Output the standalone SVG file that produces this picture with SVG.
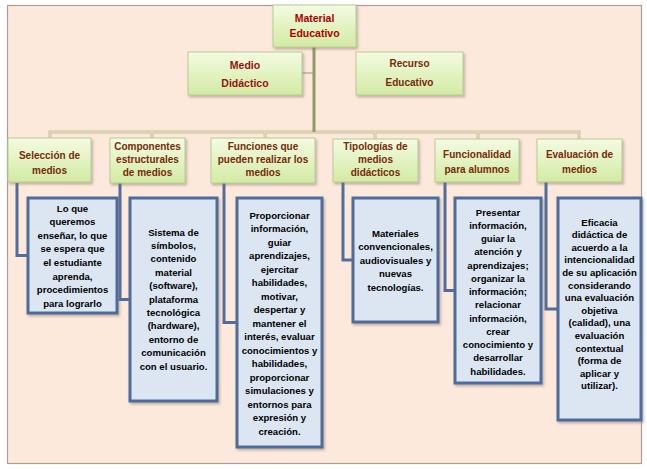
<svg xmlns="http://www.w3.org/2000/svg" width="647" height="469" viewBox="0 0 647 469">
<defs>
<linearGradient id="gg" x1="0" y1="0" x2="0" y2="1">
<stop offset="0" stop-color="#F4FBE2"/>
<stop offset="1" stop-color="#D2EBA3"/>
</linearGradient>
<filter id="sh" x="-10%" y="-10%" width="130%" height="130%">
<feDropShadow dx="1.5" dy="2" stdDeviation="1" flood-color="#7a6f60" flood-opacity="0.45"/>
</filter>
</defs>
<style>
.g{fill:url(#gg);stroke:#B9CC93;stroke-width:1;filter:url(#sh)}
.b{fill:#DCE6F2;stroke:#4D6C9B;stroke-width:3;filter:url(#sh)}
.t{font-family:"Liberation Sans",Arial,sans-serif;font-weight:bold;text-anchor:middle}
.tr{fill:#B00000;font-size:10.5px}
.tl{fill:#7A2A08;font-size:10px}
.tb{fill:#000;font-size:9.6px}
.bc{fill:none;stroke:#4F6E9E;stroke-width:3}
.bus{fill:none;stroke:#C7BE98;stroke-width:3}
.busi{fill:none;stroke:#EEE7CF;stroke-width:1}
</style>
<rect x="0" y="0" width="647" height="469" fill="#fff"/>
<rect x="7.5" y="5.5" width="634" height="458" fill="#FDE9DB" stroke="#A89E96" stroke-width="1.2"/>
<g id="connectors">
<line x1="302" y1="73" x2="314" y2="73" stroke="#C8C0A8" stroke-width="2"/>
<path class="bus" d="M50 140 V132 H579 V140 M152 132 V140 M265 132 V140 M375 132 V140 M478 132 V140"/>
<path class="busi" d="M50 140 V132 H579 V140 M152 132 V140 M265 132 V140 M375 132 V140 M478 132 V140"/>
<line x1="314" y1="46" x2="314" y2="132" stroke="#8E9B68" stroke-width="3"/>
<path class="bc" d="M17 183 V255.5 H28"/>
<path class="bc" d="M120 183 V299.5 H130"/>
<path class="bc" d="M224 183 V322.5 H237"/>
<path class="bc" d="M343 182 V260 H353"/>
<path class="bc" d="M445 182 V290.5 H455"/>
<path class="bc" d="M546 182 V309 H558"/>
</g>
<g id="n-material">
<rect class="g" x="273" y="5" width="83" height="42"/>
<text class="t tr" x="314.5" y="22">Material</text>
<text class="t tr" x="314.5" y="37">Educativo</text>
</g>
<g id="n-medio">
<rect class="g" x="188" y="52" width="114" height="43"/>
<text class="t tr" x="245" y="69" style="fill:#9A1010">Medio</text>
<text class="t tr" x="245" y="87" style="fill:#9A1010">Didáctico</text>
</g>
<g id="n-recurso">
<rect class="g" x="356" y="52" width="107" height="43"/>
<text class="t tl" x="409.5" y="67">Recurso</text>
<text class="t tl" x="409.5" y="86">Educativo</text>
</g>
<g id="n-seleccion">
<rect class="g" x="8" y="138" width="83" height="44"/>
<text class="t tl" x="49.5" y="158.5">Selección de</text>
<text class="t tl" x="49.5" y="173.5">medios</text>
</g>
<g id="n-componentes">
<rect class="g" x="110" y="138" width="75" height="45"/>
<text class="t tl" x="147.5" y="149.5">Componentes</text>
<text class="t tl" x="147.5" y="162.5">estructurales</text>
<text class="t tl" x="147.5" y="175.5">de medios</text>
</g>
<g id="n-funciones">
<rect class="g" x="211" y="138" width="104" height="45"/>
<text class="t tl" x="263" y="149.5">Funciones que</text>
<text class="t tl" x="263" y="162.5">pueden realizar los</text>
<text class="t tl" x="263" y="175.5">medios</text>
</g>
<g id="n-tipologias">
<rect class="g" x="333" y="139" width="85" height="43"/>
<text class="t tl" x="375.5" y="149.5">Tipologías de</text>
<text class="t tl" x="375.5" y="162.5">medios</text>
<text class="t tl" x="375.5" y="175.5">didácticos</text>
</g>
<g id="n-funcionalidad">
<rect class="g" x="435" y="139" width="84" height="43"/>
<text class="t tl" x="477" y="157.5">Funcionalidad</text>
<text class="t tl" x="477" y="172.5">para alumnos</text>
</g>
<g id="n-evaluacion">
<rect class="g" x="537" y="139" width="85" height="43"/>
<text class="t tl" x="579.5" y="157.5">Evaluación de</text>
<text class="t tl" x="579.5" y="172.5">medios</text>
</g>
<g id="d-seleccion">
<rect class="b" x="28" y="198" width="89" height="115"/>
<text class="t tb" x="72.5" y="211.5">Lo que</text>
<text class="t tb" x="72.5" y="225.1">queremos</text>
<text class="t tb" x="72.5" y="238.7">enseñar, lo que</text>
<text class="t tb" x="72.5" y="252.3">se espera que</text>
<text class="t tb" x="72.5" y="265.9">el estudiante</text>
<text class="t tb" x="72.5" y="279.5">aprenda,</text>
<text class="t tb" x="72.5" y="293.1">procedimientos</text>
<text class="t tb" x="72.5" y="306.7">para lograrlo</text>
</g>
<g id="d-componentes">
<rect class="b" x="130" y="198" width="87" height="203"/>
<text class="t tb" x="173.5" y="235.5">Sistema de</text>
<text class="t tb" x="173.5" y="248.9">símbolos,</text>
<text class="t tb" x="173.5" y="262.3">contenido</text>
<text class="t tb" x="173.5" y="275.7">material</text>
<text class="t tb" x="173.5" y="289.1">(software),</text>
<text class="t tb" x="173.5" y="302.5">plataforma</text>
<text class="t tb" x="173.5" y="315.9">tecnológica</text>
<text class="t tb" x="173.5" y="329.3">(hardware),</text>
<text class="t tb" x="173.5" y="342.7">entorno de</text>
<text class="t tb" x="173.5" y="356.1">comunicación</text>
<text class="t tb" x="173.5" y="369.5">con el usuario.</text>
</g>
<g id="d-funciones">
<rect class="b" x="237" y="198" width="85" height="249"/>
<text class="t tb" x="279.5" y="218.5">Proporcionar</text>
<text class="t tb" x="279.5" y="232">información,</text>
<text class="t tb" x="279.5" y="245.5">guiar</text>
<text class="t tb" x="279.5" y="259">aprendizajes,</text>
<text class="t tb" x="279.5" y="272.5">ejercitar</text>
<text class="t tb" x="279.5" y="286">habilidades,</text>
<text class="t tb" x="279.5" y="299.5">motivar,</text>
<text class="t tb" x="279.5" y="313">despertar y</text>
<text class="t tb" x="279.5" y="326.5">mantener el</text>
<text class="t tb" x="279.5" y="340">interés, evaluar</text>
<text class="t tb" x="279.5" y="353.5">conocimientos y</text>
<text class="t tb" x="279.5" y="367">habilidades,</text>
<text class="t tb" x="279.5" y="380.5">proporcionar</text>
<text class="t tb" x="279.5" y="394">simulaciones y</text>
<text class="t tb" x="279.5" y="407.5">entornos para</text>
<text class="t tb" x="279.5" y="421">expresión y</text>
<text class="t tb" x="279.5" y="434.5">creación.</text>
</g>
<g id="d-tipologias">
<rect class="b" x="353" y="198" width="85" height="124"/>
<text class="t tb" x="395.5" y="236.5">Materiales</text>
<text class="t tb" x="395.5" y="250">convencionales,</text>
<text class="t tb" x="395.5" y="263.5">audiovisuales y</text>
<text class="t tb" x="395.5" y="277">nuevas</text>
<text class="t tb" x="395.5" y="290.5">tecnologías.</text>
</g>
<g id="d-funcionalidad">
<rect class="b" x="455" y="198" width="86" height="185"/>
<text class="t tb" x="498" y="215.5">Presentar</text>
<text class="t tb" x="498" y="228.75">información,</text>
<text class="t tb" x="498" y="242">guiar la</text>
<text class="t tb" x="498" y="255.25">atención y</text>
<text class="t tb" x="498" y="268.5">aprendizajes;</text>
<text class="t tb" x="498" y="281.75">organizar la</text>
<text class="t tb" x="498" y="295">información;</text>
<text class="t tb" x="498" y="308.25">relacionar</text>
<text class="t tb" x="498" y="321.5">información,</text>
<text class="t tb" x="498" y="334.75">crear</text>
<text class="t tb" x="498" y="348">conocimiento y</text>
<text class="t tb" x="498" y="361.25">desarrollar</text>
<text class="t tb" x="498" y="374.5">habilidades.</text>
</g>
<g id="d-evaluacion">
<rect class="b" x="558" y="198" width="83" height="222"/>
<text class="t tb" x="599.5" y="225.5">Eficacia</text>
<text class="t tb" x="599.5" y="238.1">didáctica de</text>
<text class="t tb" x="599.5" y="250.7">acuerdo a la</text>
<text class="t tb" x="599.5" y="263.3">intencionalidad</text>
<text class="t tb" x="599.5" y="275.9">de su aplicación</text>
<text class="t tb" x="599.5" y="288.5">considerando</text>
<text class="t tb" x="599.5" y="301.1">una evaluación</text>
<text class="t tb" x="599.5" y="313.7">objetiva</text>
<text class="t tb" x="599.5" y="326.3">(calidad), una</text>
<text class="t tb" x="599.5" y="338.9">evaluación</text>
<text class="t tb" x="599.5" y="351.5">contextual</text>
<text class="t tb" x="599.5" y="364.1">(forma de</text>
<text class="t tb" x="599.5" y="376.7">aplicar y</text>
<text class="t tb" x="599.5" y="389.3">utilizar).</text>
</g>
</svg>
